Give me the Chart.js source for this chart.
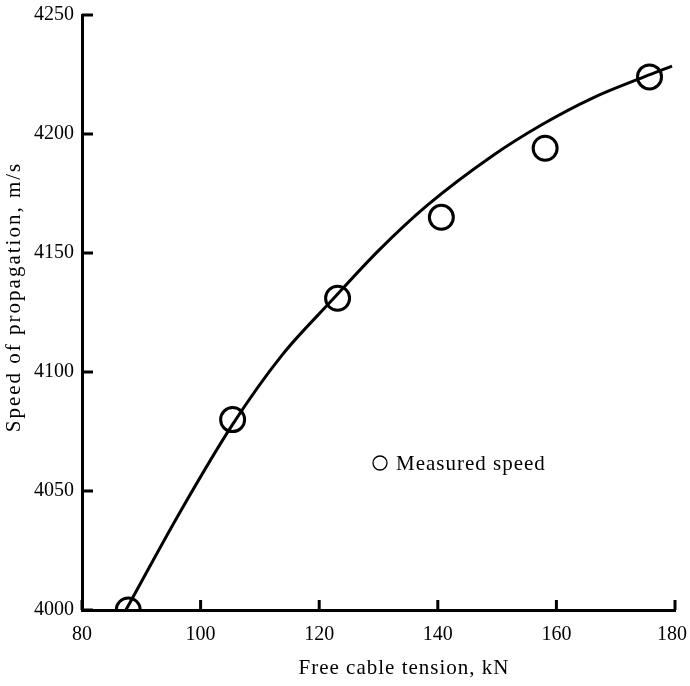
<!DOCTYPE html>
<html>
<head>
<meta charset="utf-8">
<script src="https://cdn.jsdelivr.net/npm/chart.js@4.4.1/dist/chart.umd.min.js"></script>
<style>
  html, body { margin: 0; padding: 0; background: #fff; }
  canvas { display: block; }
</style>
</head>
<body>
<canvas id="speedChart" width="690" height="686"></canvas>
<script>
// measured points (tension kN, speed m/s)
const measuredTension = [87.8, 105.4, 123.1, 140.6, 158.1, 175.7];
const measuredSpeed = [4000, 4080, 4131, 4165, 4194, 4224];

// fitted curve
const curveTension = [87.4, 96.5, 105.4, 113.7, 122.1, 130.0, 138.2, 149.3, 157.6, 166.0, 174.8, 179.5];
const curveSpeed = [4000, 4041, 4078, 4107, 4130, 4151, 4170, 4191, 4204, 4215, 4224, 4228.5];

const xTicks = [80, 100, 120, 140, 160, 180];
const yTicks = [4000, 4050, 4100, 4150, 4200, 4250];

const serif = '"Liberation Serif", "DejaVu Serif", serif';

// inward tick marks, x labels, axis titles and the little legend
const annotate = {
    id: 'annotate',
    afterDraw(chart) {
        const ctx = chart.ctx;
        const x = chart.scales.x;
        const y = chart.scales.y;
        const area = chart.chartArea;
        ctx.save();
        ctx.strokeStyle = '#000';
        ctx.lineWidth = 3;
        xTicks.forEach(v => {
            const px = x.getPixelForValue(v);
            ctx.beginPath();
            ctx.moveTo(px, area.bottom);
            ctx.lineTo(px, area.bottom - 10);
            ctx.stroke();
        });
        yTicks.forEach(v => {
            const py = y.getPixelForValue(v);
            ctx.beginPath();
            ctx.moveTo(area.left, py);
            ctx.lineTo(area.left + 11, py);
            ctx.stroke();
        });

        ctx.fillStyle = '#000';
        ctx.textBaseline = 'middle';
        ctx.textAlign = 'center';
        ctx.font = '20px ' + serif;
        xTicks.forEach(v => {
            const label = String(v);
            const w = ctx.measureText(label).width;
            let px = x.getPixelForValue(v);
            px = Math.min(px, chart.width - 3 - w / 2);
            ctx.fillText(label, px, area.bottom + 25);
        });

        ctx.font = '21px ' + serif;
        ctx.letterSpacing = '1px';
        ctx.fillText('Free cable tension, kN', 404, 668);

        ctx.save();
        ctx.letterSpacing = '2px';
        ctx.translate(14, 297);
        ctx.rotate(-Math.PI / 2);
        ctx.fillText('Speed of propagation, m/s', 0, 0);
        ctx.restore();

        // legend
        ctx.lineWidth = 1.3;
        ctx.beginPath();
        ctx.arc(380, 463, 7, 0, Math.PI * 2);
        ctx.stroke();
        ctx.textAlign = 'left';
        ctx.letterSpacing = '1px';
        ctx.fillText('Measured speed', 396, 464);
        ctx.restore();
    }
};

const ctx = document.getElementById('speedChart').getContext('2d');
new Chart(ctx, {
    type: 'line',
    data: {
        datasets: [{
            label: 'Fit',
            data: curveTension.map((t, i) => ({ x: t, y: curveSpeed[i] })),
            borderColor: '#000',
            borderWidth: 3,
            pointRadius: 0,
            cubicInterpolationMode: 'monotone',
            fill: false
        }, {
            label: 'Measured speed',
            data: measuredTension.map((t, i) => ({ x: t, y: measuredSpeed[i] })),
            showLine: false,
            borderColor: '#000',
            backgroundColor: 'rgba(0,0,0,0)',
            pointBackgroundColor: 'rgba(0,0,0,0)',
            pointBorderColor: '#000',
            pointBorderWidth: 3,
            pointRadius: 12
        }]
    },
    options: {
        responsive: false,
        animation: false,
        layout: { padding: { top: 14, right: 10, left: 0, bottom: 0 } },
        plugins: {
            legend: { display: false },
            tooltip: { enabled: false }
        },
        scales: {
            x: {
                type: 'linear',
                min: 80,
                max: 180,
                afterFit: s => { s.height = 76; s.paddingLeft = 0; s.paddingRight = 0; },
                afterBuildTicks: s => { s.ticks = xTicks.map(v => ({ value: v })); },
                grid: { display: false, drawTicks: false, tickLength: 0 },
                border: { display: true, color: '#000', width: 3 },
                ticks: { display: false }
            },
            y: {
                type: 'linear',
                min: 4000,
                max: 4250,
                afterFit: s => { s.width = 82; s.paddingTop = 0; s.paddingBottom = 0; },
                afterBuildTicks: s => { s.ticks = yTicks.map(v => ({ value: v })); },
                grid: { display: false, drawTicks: false, tickLength: 0 },
                border: { display: true, color: '#000', width: 3 },
                ticks: {
                    color: '#000',
                    padding: 8,
                    font: { family: serif, size: 20 },
                    callback: v => String(v)
                }
            }
        }
    },
    plugins: [annotate]
});
</script>
</body>
</html>
